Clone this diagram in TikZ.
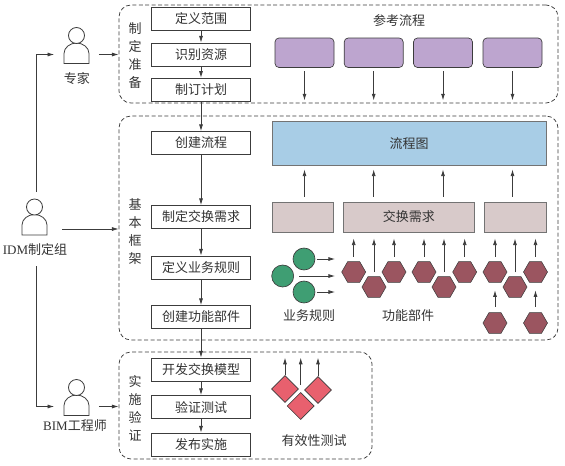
\documentclass[tikz,border=0pt]{standalone}
\usepackage{fontspec}
\setmainfont{Liberation Serif}
\newfontfamily\cjk{Noto Sans CJK SC}
\usetikzlibrary{arrows.meta,fit,shapes.geometric}
\definecolor{LineGray}{RGB}{60,60,60}
\definecolor{RefPurple}{RGB}{189,165,207}
\definecolor{ChartBlue}{RGB}{168,205,230}
\definecolor{NeedBrown}{RGB}{216,202,202}
\definecolor{RuleGreen}{RGB}{63,158,115}
\definecolor{PartRed}{RGB}{155,85,96}
\definecolor{TestRed}{RGB}{232,96,110}
\tikzset{
	panel/.style={draw=LineGray,dash pattern=on 3pt off 1.8pt,line width=.55pt,rounded corners=9pt,inner sep=0pt},
	stepbox/.style={draw=LineGray,line width=.6pt,fill=white,minimum width=74.6pt,minimum height=17.2pt,inner sep=0pt},
	refbox/.style={draw=LineGray,line width=.5pt,fill=RefPurple,rounded corners=3pt,inner sep=0pt},
	needbox/.style={draw=black!55,line width=.7pt,fill=NeedBrown,inner sep=0pt},
	rulenode/.style={circle,draw=LineGray,line width=.5pt,fill=RuleGreen,minimum size=16.5pt,inner sep=0pt},
	partnode/.style={regular polygon,regular polygon sides=6,draw=LineGray,line width=.4pt,fill=PartRed,minimum size=18pt,inner sep=0pt},
	testnode/.style={diamond,aspect=1,draw=LineGray,line width=.5pt,fill=TestRed,minimum size=20.4pt,inner sep=0pt},
	personbox/.style={minimum width=33pt,minimum height=10pt,inner sep=0pt},
	person/.style={draw=LineGray,line width=.6pt,fill=white},
	flow/.style={draw=LineGray,line width=.6pt,-{Latex[length=5pt,width=3pt]}},
}

\begin{document}
\begin{tikzpicture}[x=.75pt,y=-.75pt,every node/.style={font=\cjk\fontsize{9.75}{13.5}\selectfont,text=black!80}]
	\useasboundingbox (0,0) rectangle (565,465);
	\node[panel,fit={(119,5)(558,103)}] (prep) {};
	\node[panel,fit={(119,116)(558,340)}] (base) {};
	\node[panel,fit={(119,352)(372,459)}] (impl) {};
	\node[align=center] (preplabel) at (135,56) {制\\定\\准\\备};
	\node[align=center] (baselabel) at (135,232) {基\\本\\框\\架};
	\node[align=center] (impllabel) at (135,408.5) {实\\施\\验\\证};
	\foreach \n/\y/\t in {scope/18.7/定义范围,source/54.5/识别资源,plan/89.7/制订计划,flowstep/143/创建流程,
		needstep/217/制定交换需求,rulestep/267.5/定义业务规则,partstep/317/创建功能部件,
		modelstep/369.5/开发交换模型,checkstep/407/验证测试,release/444.5/发布实施}
	\node[stepbox] (\n) at (201,\y) {\t};
	\foreach \x/\y in {scope/source,source/plan,plan/flowstep,flowstep/needstep,needstep/rulestep,
		rulestep/partstep,partstep/modelstep,modelstep/checkstep,checkstep/release}
	\draw[flow] (\x)--(\y);
	\foreach \p/\x/\y in {expert/76.5/54.5,idm/34.5/226,bim/76.5/406.5}{
		\node[personbox] (\p) at (\x,\y) {};
		\draw[person] (\p) ++(-12.5,9) -- ++(0,-10) .. controls +(0,-6) and +(-6.5,0) .. ++(12.5,-10.5)
			.. controls +(6.5,0) and +(0,-6) .. ++(12.5,10.5) -- ++(0,10) -- cycle;
		\draw[person] (\p) ++(0,-19) circle (6pt);
	}
	\node (expertlabel) at (77,79) {专家};
	\node (idmlabel) at (35,250) {{\rmfamily IDM}制定组};
	\node (bimlabel) at (75,426) {{\rmfamily BIM}工程师};
	\coordinate (idmup) at (36,192);
	\coordinate (idmdown) at (36,266);
	\coordinate (idmout) at (62,229);
	\draw[flow] (idmup) |- (expert.west);
	\draw[flow] (idmdown) |- (bim.west);
	\draw[flow] (idmout)--(idmout -| base.west);
	\draw[flow] (expert.east)--(expert.east -| prep.west);
	\draw[flow] (bim.east)--(bim.east -| impl.west);
	\node (reflabel) at (399,21) {参考流程};
	\foreach \n/\x in {ref1/304.5,ref2/373.7,ref3/443,ref4/512.5}{
		\node[refbox,fit={(\x-29.5,38)(\x+29.5,67.5)}] (\n) {};
		\draw[flow,shorten <=2.5pt,shorten >=2.2pt] (\n.south)--(\n.south |- prep.south);
	}
	\node[draw=black!55,line width=.7pt,fill=ChartBlue,inner sep=0pt,fit={(272,121.5)(546,165)}] (chart) {};
	\node at (chart.center) (chartlabel) {流程图};
	\node[needbox,fit={(272,202)(333,232)}] (need1) {};
	\node[needbox,fit={(343,202)(474.5,232)}] (need2) {};
	\node[needbox,fit={(484.5,202)(546,232)}] (need3) {};
	\node at (need2.center) (needlabel) {交换需求};
	\foreach \r/\n in {ref1/need1,ref2/need2,ref3/need2,ref4/need3}
	\draw[flow,shorten <=3.7pt,shorten >=3pt] (\r.south |- \n.north)--(\r.south |- chart.south);
	\foreach \n/\x/\y in {part1/353.7/272,part2/374/287,part3/394/272,part4/424/272,part5/444/287,part6/464.7/272,
		part7/495/272,part8/515/287,part9/535.5/272,part10/495/323,part11/535.5/323}
	\node[partnode] (\n) at (\x,\y) {};
	\foreach \p/\n/\s in {part1/need2/3.4,part2/need2/3,part3/need2/3.4,part4/need2/3.4,part5/need2/3,part6/need2/3.4,
		part7/need3/3.4,part8/need3/3,part9/need3/3.4}
	\draw[flow,shorten <=\s pt,shorten >=4.5pt] (\p.north)--(\p.north |- \n.south);
	\draw[flow,shorten <=4.2pt,shorten >=5.7pt] (part10.north)--(part7.south);
	\draw[flow,shorten <=4.2pt,shorten >=5.7pt] (part11.north)--(part9.south);
	\foreach \n/\x/\y in {rule1/304/259,rule2/282.7/276,rule3/304/292}
	\node[rulenode] (\n) at (\x,\y) {};
	\draw[flow,shorten <=1pt,shorten >=4.7pt] (rule1.east)--(rule1.east -| part1.west);
	\draw[flow,shorten <=4pt,shorten >=4.7pt] (rule2.east)--(rule2.east -| part1.west);
	\draw[flow,shorten <=1pt,shorten >=4.7pt] (rule3.east)--(rule3.east -| part1.west);
	\node (rulelabel) at (309,316) {业务规则};
	\node (partlabel) at (408,316) {功能部件};
	\foreach \n/\x/\y in {test1/285/389,test2/300.7/406,test3/318/390}
	\node[testnode] (\n) at (\x,\y) {};
	\draw[flow,shorten >=4.5pt] (test1.north)--(test1.north |- impl.north);
	\draw[flow,shorten <=5.6pt,shorten >=4.5pt] (test2.north)--(test2.north |- impl.north);
	\draw[flow,shorten >=4.5pt] (test3.north)--(test3.north |- impl.north);
	\node (testlabel) at (314,441) {有效性测试};
\end{tikzpicture}
\end{document}
